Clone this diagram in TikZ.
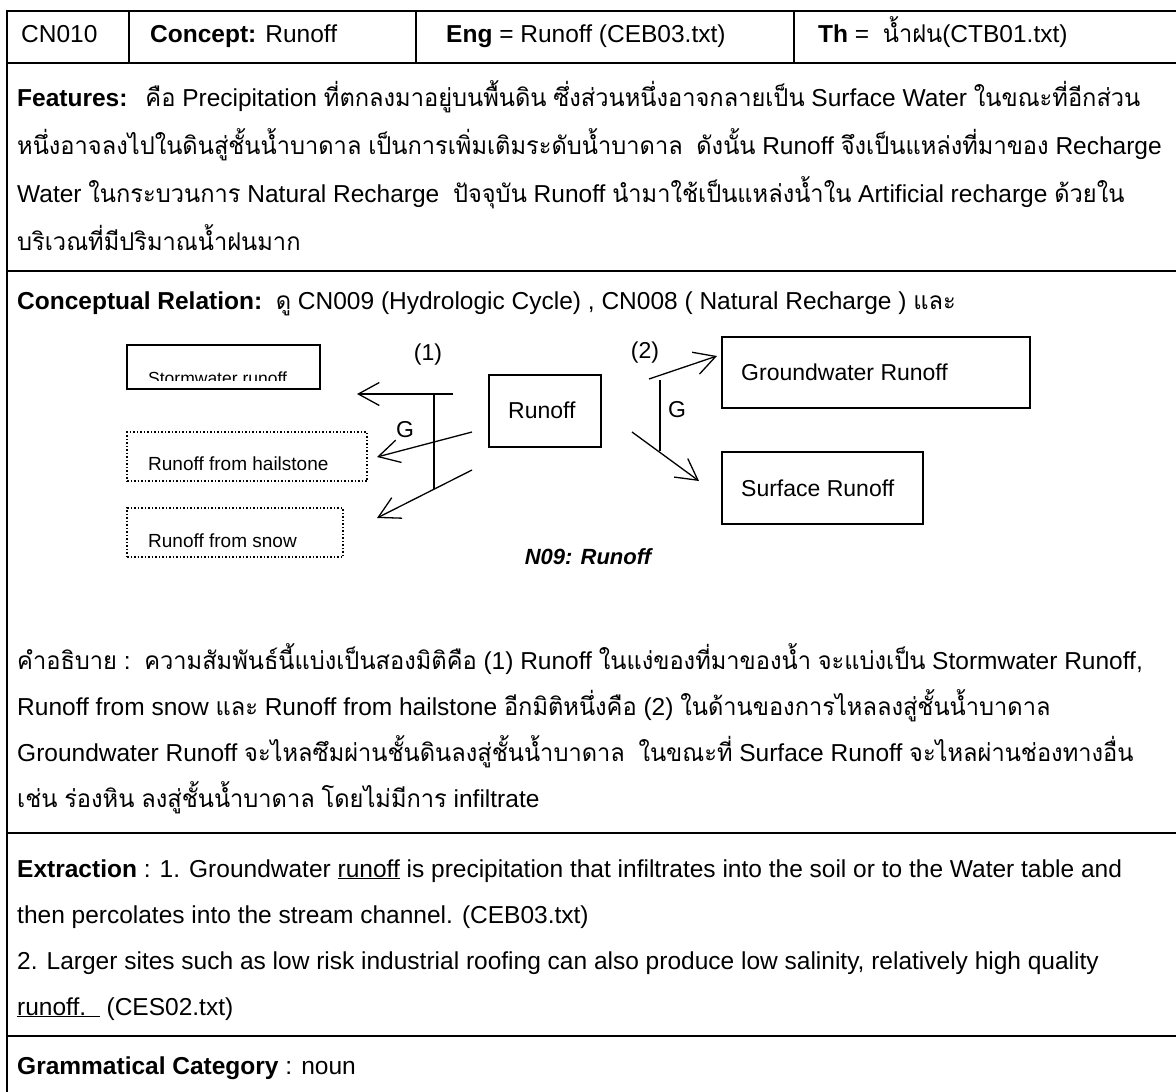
\documentclass[tikz,border=0pt]{standalone}
\usepackage{fontspec}
\usetikzlibrary{arrows.meta}
\setmainfont{Liberation Sans}
\newfontfamily\latinfont{Liberation Sans}
\newfontfamily\thaifont[Script=Thai, FakeStretch=0.965]{Loma}

% switch to the Thai face automatically for every run of Thai characters
\XeTeXinterchartokenstate=1
\newXeTeXintercharclass\thaicls
\newcount\tc
\tc="0E00
\loop
  \XeTeXcharclass\tc=\thaicls
  \ifnum\tc<"0E7F \advance\tc by 1
\repeat
\XeTeXinterchartoks 0 \thaicls = {\thaifont}
\XeTeXinterchartoks 4095 \thaicls = {\thaifont}
\XeTeXinterchartoks \thaicls 0 = {\latinfont}
\XeTeXinterchartoks \thaicls 4095 = {\latinfont}

\tikzset{
  grid/.style={line width=1.8pt},
  txt/.style={anchor=base west, inner sep=0pt, font=\fontsize{24.5}{28}\selectfont},
  lbl/.style={anchor=base west, inner sep=0pt, font=\fontsize{23}{26}\selectfont},
  small/.style={anchor=base west, inner sep=0pt, font=\fontsize{19}{22}\selectfont},
  solidbox/.style={draw, line width=1.4pt, inner sep=0pt},
  dotbox/.style={draw, dotted, line width=1.5pt, inner sep=0pt},
  link/.style={line width=1.3pt},
  arrowlink/.style={line width=1.3pt, -{Straight Barb[length=21pt,width=23pt]}},
}

\begin{document}
\begin{tikzpicture}[x=1pt,y=-1pt]
\useasboundingbox (0,0) rectangle (1176,1092);
\fill[white] (0,0) rectangle (1176,1092);

% ---- table rules ----
\coordinate (tl) at (7,11);
\draw[grid] (7,1092) -- (tl) -- (1176,11);
\draw[grid] (7,63) -- (1176,63);
\draw[grid] (7,271) -- (1176,271);
\draw[grid] (7,833) -- (1176,833);
\draw[grid] (7,1036) -- (1176,1036);
\draw[grid] (129,11) -- (129,63);
\draw[grid] (416,11) -- (416,63);
\draw[grid] (794,11) -- (794,63);

% ---- header row ----
\node[txt] (id)   at (21,42)  {CN010};
\node[txt] (cpt)  at (150,42) {{\bfseries Concept:} Runoff};
\node[txt] (eng)  at (446,42) {{\bfseries Eng} = Runoff (CEB03.txt)};
\node[txt] (th)   at (818,42) {{\bfseries Th} =\ \ น้ำฝน(CTB01.txt)};

% ---- features ----
\node[txt] (f1) at (17,106) {{\bfseries Features:}\hspace{18pt}คือ Precipitation ที่ตกลงมาอยู่บนพื้นดิน ซึ่งส่วนหนึ่งอาจกลายเป็น Surface Water ในขณะที่อีกส่วน};
\node[txt] (f2) at (17,154) {หนึ่งอาจลงไปในดินสู่ชั้นน้ำบาดาล เป็นการเพิ่มเติมระดับน้ำบาดาล\ \ ดังนั้น Runoff จึงเป็นแหล่งที่มาของ Recharge};
\node[txt] (f3) at (17,202) {Water ในกระบวนการ Natural Recharge\ \ ปัจจุบัน Runoff นำมาใช้เป็นแหล่งน้ำใน Artificial recharge ด้วยใน};
\node[txt] (f4) at (17,250) {บริเวณที่มีปริมาณน้ำฝนมาก};

% ---- conceptual relation ----
\node[txt] (cr) at (17,309) {{\bfseries Conceptual Relation:}\ \ ดู CN009 (Hydrologic Cycle) , CN008 ( Natural Recharge ) และ};

% boxes of the relation diagram
\node[solidbox, minimum width=193pt, minimum height=44pt] (storm) at (223.5,367) {};
\begin{scope}
  \clip (storm.north west) rectangle (320,380);
  \node[anchor=base west, inner sep=0pt, font=\fontsize{17.5}{20}\selectfont] (stormtxt) at (148,384) {Stormwater runoff};
\end{scope}
\node[dotbox, minimum width=240pt, minimum height=49pt] (hail) at (247,456.5) {};
\node[small] (hailtxt) at (148,470) {Runoff from hailstone};
\node[dotbox, minimum width=216pt, minimum height=49pt] (snow) at (235,532.5) {};
\node[small] (snowtxt) at (148,547) {Runoff from snow};

\node[solidbox, minimum width=112pt, minimum height=72pt] (runoff) at (545,411) {};
\node[lbl] (runofftxt) at (508,418) {Runoff};
\node[solidbox, minimum width=308pt, minimum height=71pt] (gw) at (876,372.5) {};
\node[lbl] (gwtxt) at (741,380) {Groundwater Runoff};
\node[solidbox, minimum width=201pt, minimum height=72pt] (surf) at (822.5,488) {};
\node[lbl] (surftxt) at (741,496) {Surface Runoff};

% dimension (1): sources of runoff
\coordinate (a1s) at (453,394);
\coordinate (a1e) at (357,394);
\coordinate (a2s) at (472,432);
\coordinate (a2e) at (377,457);
\coordinate (a3s) at (472,470);
\coordinate (a3e) at (377,518);
\coordinate (b1top) at (434,394);
\coordinate (b1bot) at (434,489);
\draw[arrowlink] (a1s) -- (a1e);
\draw[arrowlink] (a2s) -- (a2e);
\draw[arrowlink] (a3s) -- (a3e);
\draw[link] (b1top) -- (b1bot);
\node[lbl, anchor=center] (one) at (428,355) {(1)};
\node[lbl, anchor=center] (g1) at (405,430) {G};

% dimension (2): paths to groundwater
\coordinate (c1s) at (649,379);
\coordinate (c1e) at (717,356);
\coordinate (c2s) at (632,432);
\coordinate (c2e) at (699,481);
\coordinate (b2top) at (660,380);
\coordinate (b2bot) at (660,451);
\draw[arrowlink] (c1s) -- (c1e);
\draw[arrowlink] (c2s) -- (c2e);
\draw[link] (b2top) -- (b2bot);
\node[lbl, anchor=center] (two) at (645,353) {(2)};
\node[lbl, anchor=center] (g2) at (677,410) {G};

\node[anchor=center, inner sep=0pt, font=\fontsize{22}{26}\selectfont\bfseries\itshape] (cap) at (588,557) {N09: Runoff};

% ---- explanation ----
\node[txt] (e1) at (17,669) {คำอธิบาย :\ \ ความสัมพันธ์นี้แบ่งเป็นสองมิติคือ (1) Runoff ในแง่ของที่มาของน้ำ จะแบ่งเป็น Stormwater Runoff,};
\node[txt] (e2) at (17,715) {Runoff from snow และ Runoff from hailstone อีกมิติหนึ่งคือ (2) ในด้านของการไหลลงสู่ชั้นน้ำบาดาล};
\node[txt] (e3) at (17,761) {Groundwater Runoff จะไหลซึมผ่านชั้นดินลงสู่ชั้นน้ำบาดาล\ \ ในขณะที่ Surface Runoff จะไหลผ่านช่องทางอื่น};
\node[txt] (e4) at (17,807) {เช่น ร่องหิน ลงสู่ชั้นน้ำบาดาล โดยไม่มีการ infiltrate};

% ---- extraction ----
\node[txt] (x1) at (17,877) {{\bfseries Extraction} : 1. Groundwater \underline{runoff} is precipitation that infiltrates into the soil or to the Water table and};
\node[txt] (x2) at (17,923) {then percolates into the stream channel. (CEB03.txt)};
\node[txt] (x3) at (17,969) {2. Larger sites such as low risk industrial roofing can also produce low salinity, relatively high quality};
\node[txt] (x4) at (17,1015) {\underline{runoff.\ \ }\ (CES02.txt)};

% ---- grammatical category ----
\node[txt] (gc) at (17,1074) {{\bfseries Grammatical Category} : noun};
\end{tikzpicture}
\end{document}
